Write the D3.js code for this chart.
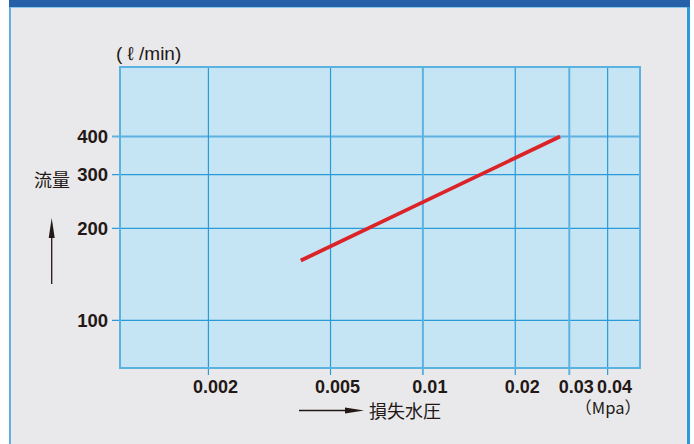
<!DOCTYPE html>
<html>
<head>
<meta charset="utf-8">
<script src="https://cdn.jsdelivr.net/npm/d3@7"></script>
<style>
  html, body { margin: 0; padding: 0; background: #fff; }
  svg { display: block; }
  text { font-family: "Liberation Sans", Arial, sans-serif; fill: #231815; }
  .cjk { font-family: "Noto Sans CJK JP", "Noto Sans CJK SC", sans-serif; }
</style>
</head>
<body>
<div id="chart"></div>
<script>
// data
var pressure = [0.004, 0.01, 0.028];   // Mpa
var flow = [157, 244, 400];            // l/min
var xTicks = [0.002, 0.005, 0.01, 0.02, 0.03, 0.04];
var xTickLabels = ["0.002", "0.005", "0.01", "0.02", "0.03", "0.04"];
var yTicks = [100, 200, 300, 400];
var yTickLabels = ["100", "200", "300", "400"];

var W = 694, H = 444;
var margin = {top: 67, right: 54, bottom: 76, left: 120},
    width = W - margin.left - margin.right,
    height = H - margin.top - margin.bottom;

var svg = d3.select("#chart")
  .append("svg")
    .attr("width", W)
    .attr("height", H);

// panel background + borders
svg.append("rect").attr("x", 10).attr("y", 0).attr("width", 679).attr("height", H).attr("fill", "#e9e9eb");
svg.append("rect").attr("x", 9).attr("y", 0).attr("width", 2).attr("height", H).attr("fill", "#62b0e0");
svg.append("rect").attr("x", 687).attr("y", 0).attr("width", 3).attr("height", H).attr("fill", "#2a9ad8");
svg.append("rect").attr("x", 9).attr("y", 0).attr("width", 681).attr("height", 7).attr("fill", "#2560a8");
svg.append("rect").attr("x", 11).attr("y", 7).attr("width", 676).attr("height", 1).attr("fill", "#8cc8ea");

var g = svg.append("g")
  .attr("transform", "translate(" + margin.left + "," + margin.top + ")");

var x = d3.scaleLog()
  .domain([0.00103, 0.051])
  .range([0, width]);

var y = d3.scaleLog()
  .domain([69.8, 676])
  .range([height, 0]);

// plot fill
g.append("rect")
  .attr("width", width)
  .attr("height", height)
  .attr("fill", "#c5e5f5");

// grid lines (extend past the frame as ticks)
var heavy = {400: true, 0.01: true, 0.03: true};
g.append("g")
  .selectAll("line")
  .data(yTicks)
  .enter()
  .append("line")
    .attr("x1", -8)
    .attr("x2", width)
    .attr("y1", function(d) { return y(d); })
    .attr("y2", function(d) { return y(d); })
    .attr("stroke", function(d) { return heavy[d] ? "#5db2e2" : "#2b9ad8"; })
    .attr("stroke-width", function(d) { return heavy[d] ? 2 : 1.2; });

g.append("g")
  .selectAll("line")
  .data(xTicks)
  .enter()
  .append("line")
    .attr("x1", function(d) { return x(d); })
    .attr("x2", function(d) { return x(d); })
    .attr("y1", 0)
    .attr("y2", height + 7)
    .attr("stroke", function(d) { return heavy[d] ? "#5db2e2" : "#2b9ad8"; })
    .attr("stroke-width", function(d) { return heavy[d] ? 2 : 1.2; });

// frame
g.append("rect")
  .attr("width", width)
  .attr("height", height)
  .attr("fill", "none")
  .attr("stroke", "#5ab2e0")
  .attr("stroke-width", 2);

// tick labels
g.append("g")
  .selectAll("text")
  .data(yTicks)
  .enter()
  .append("text")
    .attr("x", -12)
    .attr("y", function(d) { return y(d); })
    .attr("dy", "0.36em")
    .attr("text-anchor", "end")
    .style("font-size", "18.5px")
    .style("font-weight", "bold")
    .text(function(d, i) { return yTickLabels[i]; });

// x labels sit a little right of their grid line in the original
g.append("g")
  .selectAll("text")
  .data(xTicks)
  .enter()
  .append("text")
    .attr("x", function(d) { return x(d) + 7; })
    .attr("y", height + 24.5)
    .attr("text-anchor", "middle")
    .style("font-size", "18px")
    .style("font-weight", "bold")
    .text(function(d, i) { return xTickLabels[i]; });

// flow line
var line = d3.line()
  .x(function(d, i) { return x(pressure[i]); })
  .y(function(d) { return y(d); });

g.append("path")
  .datum(flow)
  .attr("d", line)
  .attr("fill", "none")
  .attr("stroke", "#dc2428")
  .attr("stroke-width", 3.8);

// axis titles
svg.append("text")
  .attr("x", 116)
  .attr("y", 60)
  .style("font-size", "19px")
  .text("( ℓ /min)");

svg.append("text")
  .attr("class", "cjk")
  .attr("x", 34)
  .attr("y", 187)
  .style("font-size", "18px")
  .text("流量");

svg.append("text")
  .attr("class", "cjk")
  .attr("x", 369)
  .attr("y", 418)
  .style("font-size", "18px")
  .text("損失水圧");

svg.append("text")
  .attr("class", "cjk")
  .attr("x", 641)
  .attr("y", 414)
  .attr("text-anchor", "end")
  .style("font-size", "16.5px")
  .text("（Mpa）");

// arrows
svg.append("line")
  .attr("x1", 299).attr("x2", 350)
  .attr("y1", 410.5).attr("y2", 410.5)
  .attr("stroke", "#231815").attr("stroke-width", 1.3);
svg.append("path")
  .attr("d", "M345,407.5 L364,410.5 L345,413.5 Z")
  .attr("fill", "#231815");

svg.append("line")
  .attr("x1", 51.7).attr("x2", 51.7)
  .attr("y1", 284).attr("y2", 232)
  .attr("stroke", "#231815").attr("stroke-width", 1.3);
svg.append("path")
  .attr("d", "M48.7,238 L51.7,218 L54.7,238 Z")
  .attr("fill", "#231815");
</script>
</body>
</html>
